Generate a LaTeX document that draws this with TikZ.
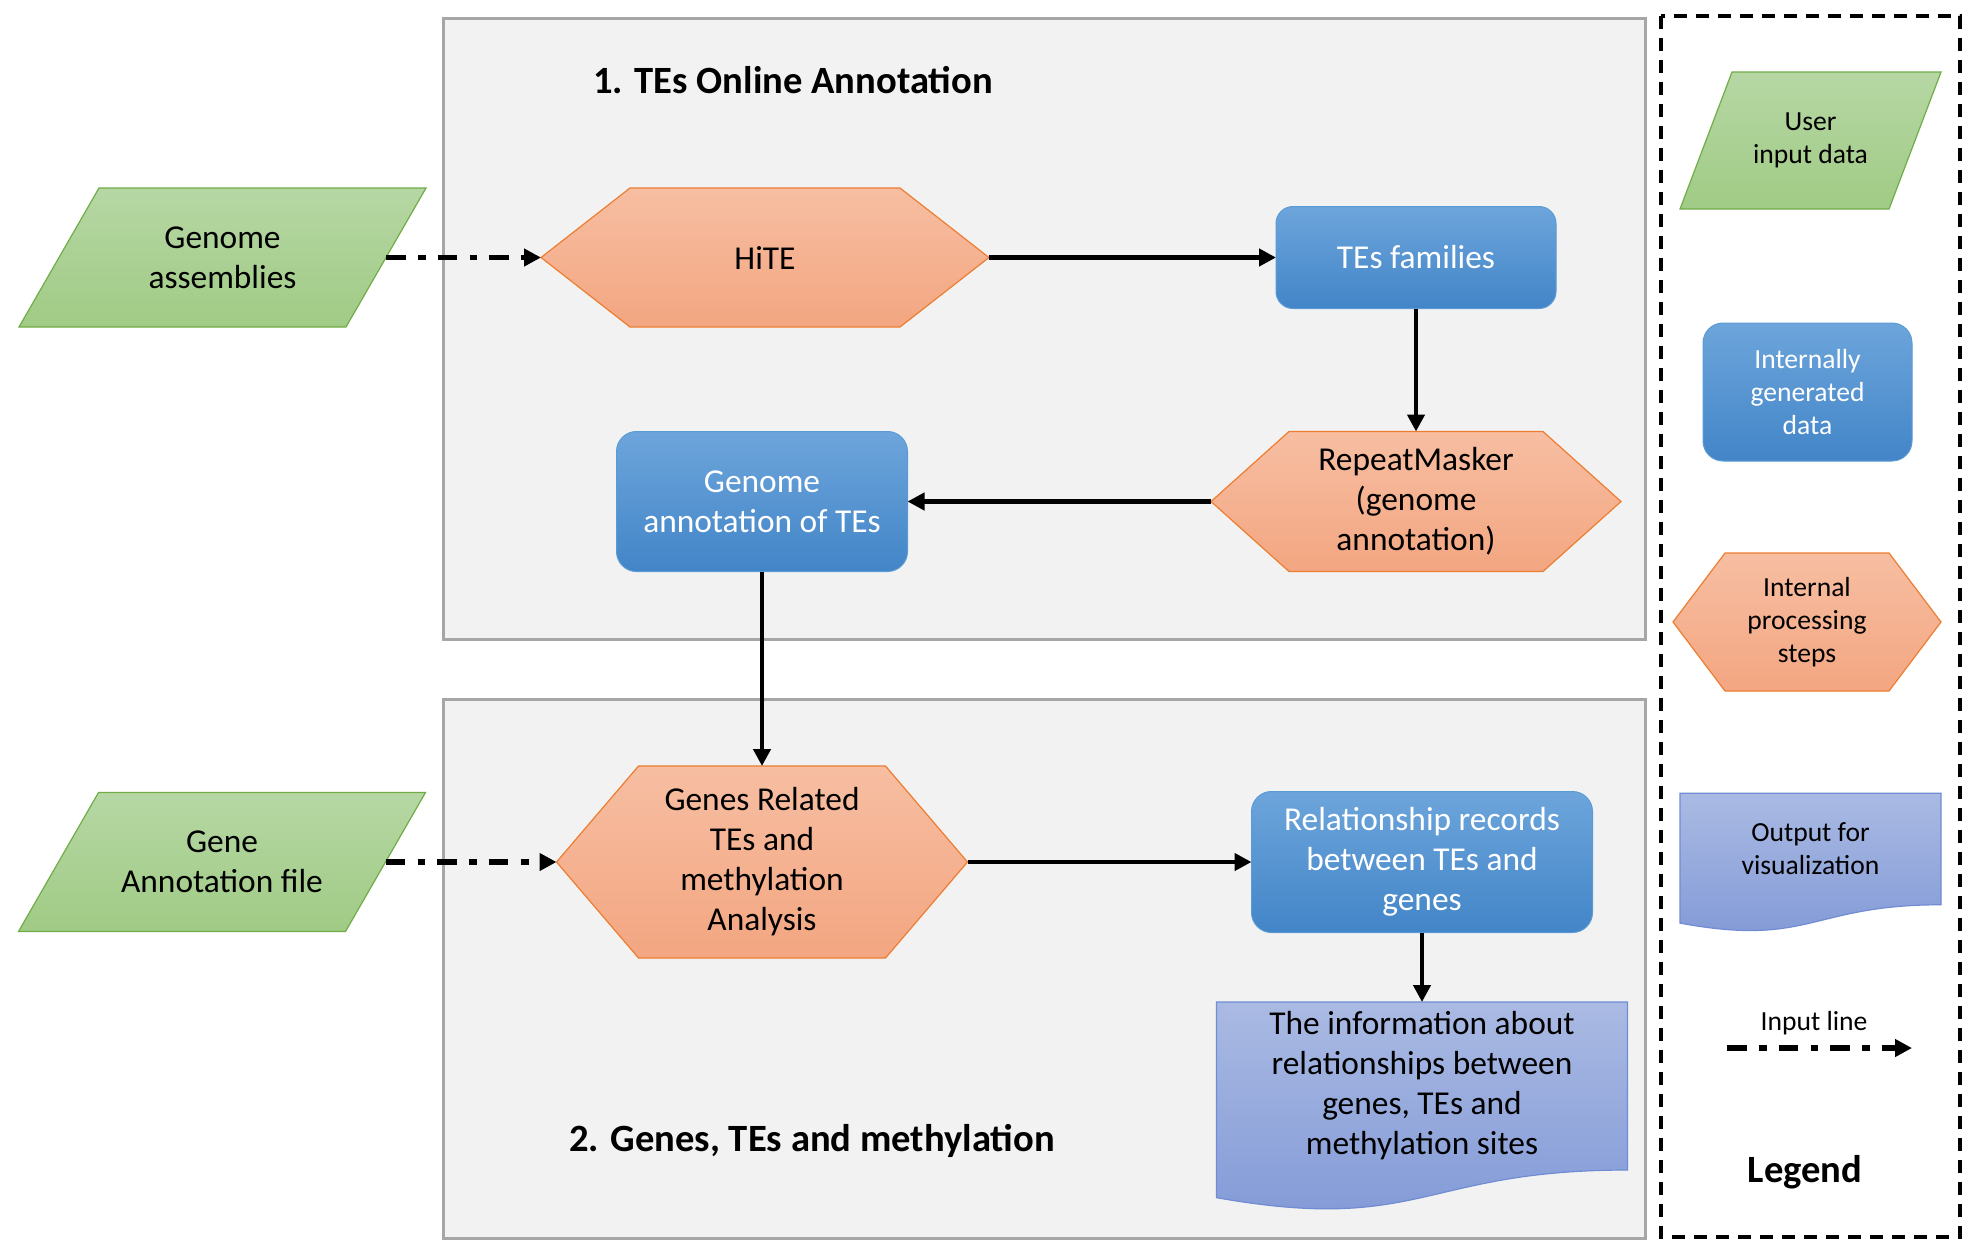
\documentclass[tikz,border=0pt]{standalone}
\usepackage{fontspec}
\setmainfont{Carlito}
\usetikzlibrary{arrows.meta,calc}
\pgfdeclarelayer{bg}
\pgfdeclarelayer{shp}
\pgfsetlayers{bg,shp,main}

\definecolor{grtop}{RGB}{182,215,164}
\definecolor{grbot}{RGB}{160,203,133}
\definecolor{grline}{RGB}{112,173,71}
\definecolor{ortop}{RGB}{247,190,162}
\definecolor{orbot}{RGB}{243,166,129}
\definecolor{orline}{RGB}{237,125,49}
\definecolor{bltop}{RGB}{109,165,219}
\definecolor{blbot}{RGB}{66,133,200}
\definecolor{blline}{RGB}{91,155,213}
\definecolor{dctop}{RGB}{170,186,227}
\definecolor{dcbot}{RGB}{128,152,214}
\definecolor{dcline}{RGB}{112,140,210}
\definecolor{panelbg}{RGB}{242,242,242}
\definecolor{panelline}{RGB}{166,166,166}

\tikzset{
  base/.style={inner sep=0pt, outer sep=0pt, align=center, font=\fontsize{16.7}{20}\selectfont},
  lgbase/.style={base, font=\fontsize{13.8}{16.5}\selectfont},
  bluebox/.style={rounded corners=10pt, top color=bltop, bottom color=blbot, draw=blline, line width=0.5pt, text=white},
  hexfill/.style={top color=ortop, bottom color=orbot, draw=orline, line width=0.6pt},
  parafill/.style={top color=grtop, bottom color=grbot, draw=grline, line width=0.6pt},
  docfill/.style={top color=dctop, bottom color=dcbot, draw=dcline, line width=0.6pt},
  flow/.style={line width=2.4pt, -{Triangle[length=8.5pt,width=8.5pt]}},
  inflow/.style={line width=2.8pt, dash pattern=on 9.8pt off 6.2pt on 3.9pt off 5.9pt, -{Triangle[length=8.5pt,width=8.5pt]}},
  panel/.style={fill=panelbg, draw=panelline, line width=1.5pt},
  titletext/.style={inner sep=0pt, font=\fontsize{19.3}{23}\selectfont\bfseries},
}

% #1 node name, #2 horizontal slant (px)
\newcommand\hexshape[2]{\begin{pgfonlayer}{shp}\path[hexfill] (#1.west) -- ($(#1.north west)+(#2,0)$) -- ($(#1.north east)+(-#2,0)$) -- (#1.east) -- ($(#1.south east)+(-#2,0)$) -- ($(#1.south west)+(#2,0)$) -- cycle;\end{pgfonlayer}}
% #1 node name, #2 half slant (px)
\newcommand\parashape[2]{\begin{pgfonlayer}{shp}\path[parafill] ($(#1.north west)+(#2,0)$) -- ($(#1.north east)+(#2,0)$) -- ($(#1.south east)+(-#2,0)$) -- ($(#1.south west)+(-#2,0)$) -- cycle;\end{pgfonlayer}}
% #1 node name, #2 node height (px)
\newcommand\docshape[2]{\begin{pgfonlayer}{shp}\path[docfill] (#1.north west) -- (#1.north east) -- (#1.south east) .. controls (#1.south) and ($(#1.south)+(0,0.381*#2)$) .. ($(#1.south west)+(0,0.1646*#2)$) -- cycle;\end{pgfonlayer}}

\begin{document}
\begin{tikzpicture}[x=0.5pt,y=-0.5pt]
\useasboundingbox (0,0) rectangle (1981,1255);
\begin{pgfonlayer}{bg}
\fill[white] (0,0) rectangle (1981,1255);
\path[panel] (443,18) rectangle (1645,639);
\path[panel] (443,699) rectangle (1645,1238);
\draw[line width=2pt, dash pattern=on 6.5pt off 4.5pt, fill=white] (1661,16) rectangle (1960,1237);
\end{pgfonlayer}

% titles
\node[titletext] (t1) at (793,80) {1. TEs Online Annotation};
\node[titletext] (t2) at (812,1141) {2. Genes, TEs and methylation};

% section 1
\node[base, minimum width=163.5pt, minimum height=69.5pt] (ga) at (222.5,257.5) {Genome\\assemblies};
\parashape{ga}{40}
\node[base, minimum width=224pt, minimum height=69.5pt] (hite) at (765,257.5) {HiTE};
\hexshape{hite}{89}
\node[base, bluebox, minimum width=140pt, minimum height=51pt, rounded corners=8.5pt] (tef) at (1416,257.5) {TEs families};
\node[base, minimum width=205pt, minimum height=70pt] (rm) at (1416,501.5) {RepeatMasker\\(genome\\annotation)};
\hexshape{rm}{78}
\node[base, bluebox, minimum width=145.5pt, minimum height=70pt] (gat) at (762,501.5) {Genome\\annotation of TEs};

% section 2
\node[base, minimum width=163.5pt, minimum height=69.5pt] (gaf) at (222,862) {Gene\\Annotation file};
\parashape{gaf}{40}
\node[base, minimum width=205.5pt, minimum height=96pt] (grt) at (762,862) {Genes Related\\TEs and\\methylation\\Analysis};
\hexshape{grt}{82}
\node[base, bluebox, minimum width=170.5pt, minimum height=70.5pt] (rr) at (1422,862) {Relationship records\\between TEs and\\genes};
\node[base, minimum width=205.5pt, minimum height=84pt] (info) at (1422,1086) {The information about\\relationships between\\genes, TEs and\\methylation sites};
\docshape{info}{168}

% legend
\node[lgbase, minimum width=104.5pt, minimum height=68.5pt] (lgin) at (1810.5,140.5) {User\\input data};
\parashape{lgin}{26}
\node[lgbase, bluebox, minimum width=104.5pt, minimum height=69pt] (lggen) at (1807.5,392) {Internally\\generated\\data};
\node[lgbase, minimum width=134pt, minimum height=69pt] (lgproc) at (1807,622) {Internal\\processing\\steps};
\hexshape{lgproc}{52}
\node[lgbase, minimum width=130.5pt, minimum height=55.75pt] (lgout) at (1810.5,849) {Output for\\visualization};
\docshape{lgout}{111.5}
\node[lgbase] (lgline) at (1814,1023) {Input line};
\coordinate (lina) at (1727,1048);
\coordinate (linb) at (1912,1048);
\node[titletext] (lgtitle) at (1805,1172) {Legend};

% connectors
\draw[inflow] (ga.east) -- (hite.west);
\draw[flow] (hite.east) -- (tef.west);
\draw[flow] (tef.south) -- (rm.north);
\draw[flow] (rm.west) -- (gat.east);
\draw[flow] (gat.south) -- (grt.north);
\draw[inflow] (gaf.east) -- (grt.west);
\draw[flow] (grt.east) -- (rr.west);
\draw[flow] (rr.south) -- (info.north);
\draw[inflow] (lina) -- (linb);
\end{tikzpicture}
\end{document}
